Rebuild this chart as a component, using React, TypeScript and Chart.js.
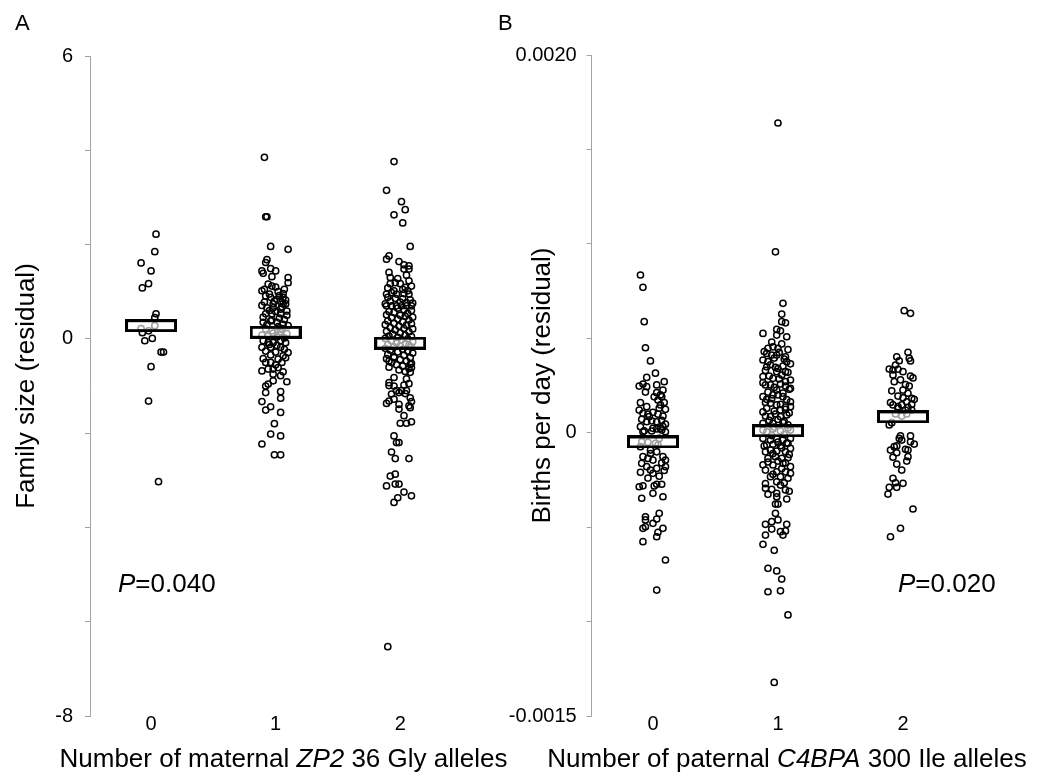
import React, { useEffect, useRef } from "react";
import { Chart, registerables } from "chart.js";

Chart.register(...registerables);

const FAMILY = "'Liberation Sans', Arial, Helvetica, sans-serif";

// ---------- Panel A: family size residual by number of maternal ZP2 36 Gly alleles ----------
const A_CATEGORIES = [0, 1, 2];
const A_MEANS = [0.28, 0.14, -0.09];
// [jitter (category units), residual]
const A_G0 = [
  [0.04, 2.22], [0.03, 1.85], [-0.08, 1.61], [0.0, 1.44], [-0.02, 1.17], [-0.07, 1.08],
  [0.04, 0.53], [0.03, 0.45], [0.03, 0.28], [-0.08, 0.22], [-0.02, 0.17], [-0.07, 0.13],
  [0.01, 0.01], [-0.05, -0.04], [0.08, -0.28], [0.1, -0.28], [0.0, -0.59], [-0.02, -1.32],
  [0.06, -3.03],
];
const A_G1 = [
  [-0.09, 3.85], [-0.08, 2.59], [-0.07, 2.59], [-0.04, 1.96], [0.1, 1.9], [-0.07, 1.68],
  [-0.08, 1.62], [-0.04, 1.49], [0.0, 1.44], [-0.11, 1.44], [-0.1, 1.39], [-0.03, 1.32],
  [0.1, 1.3], [0.1, 1.19], [-0.06, 1.16], [-0.03, 1.12], [0.0, 1.1], [-0.11, 1.02],
  [-0.08, 0.91], [-0.04, 0.88], [0.06, 0.96], [0.06, 0.88], [0.01, 0.84], [0.04, 0.79],
  [0.08, 0.74], [-0.11, 0.71], [-0.07, 0.66], [-0.02, 0.66], [0.04, 0.63], [-0.02, 0.74],
  [0.06, 0.74], [-0.08, 0.53], [-0.03, 0.53], [0.04, 0.53], [0.09, 0.59], [-0.1, 0.35],
  [-0.04, 0.38], [0.01, 0.35], [0.06, 0.31], [0.1, 0.28], [-0.08, 0.21], [-0.03, 0.17],
  [0.04, 0.15], [0.09, 0.11], [-0.06, 0.06], [0.01, 0.04], [-0.11, 0.08], [0.07, 0.02],
  [-0.1, -0.04], [-0.06, -0.08], [-0.02, -0.08], [0.04, -0.04], [0.08, -0.08], [-0.11, -0.18],
  [-0.04, -0.18], [0.04, -0.18], [0.1, -0.29], [0.06, -0.36], [-0.08, -0.5], [-0.04, -0.5],
  [0.02, -0.43], [0.05, -0.5], [-0.11, -0.68], [-0.06, -0.64], [-0.02, -0.64], [0.02, -0.61],
  [0.04, -0.78], [-0.02, -0.89], [-0.06, -0.96], [-0.08, -1.0], [0.09, -0.91], [-0.08, -1.14],
  [0.04, -1.12], [-0.11, -1.33], [0.04, -1.26], [-0.04, -1.44], [-0.08, -1.51], [0.04, -1.56],
  [-0.01, -1.8], [-0.04, -2.02], [0.04, -2.06], [-0.11, -2.23], [-0.01, -2.46], [0.04, -2.46],
  [-0.09, 1.05], [0.02, 1.0], [0.07, 1.05], [-0.05, 0.95], [0.03, 0.92], [-0.01, 0.8],
  [0.08, 0.82], [-0.09, 0.78], [0.05, 0.68], [-0.05, 0.6], [0.0, 0.58], [0.09, 0.5],
  [-0.1, 0.46], [0.03, 0.44], [-0.03, 0.4], [0.07, 0.41], [-0.07, 0.3], [0.02, 0.26],
  [0.05, 0.22], [-0.02, 0.12], [0.03, 0.08], [-0.05, -0.12], [0.01, -0.14], [0.07, -0.22],
  [-0.08, -0.26], [0.0, -0.28], [-0.04, -0.34], [0.08, -0.4], [-0.1, -0.42], [0.0, -0.55],
  [0.06, -0.7], [-0.02, -0.75],
];
const A_G2 = [
  [-0.05, 3.76], [-0.11, 3.15], [0.01, 2.91], [0.04, 2.74], [-0.05, 2.63], [0.02, 2.46],
  [0.08, 1.96], [-0.09, 1.76], [-0.11, 1.69], [-0.01, 1.64], [0.03, 1.57], [0.07, 1.55],
  [0.07, 1.48], [0.03, 1.48], [-0.09, 1.41], [0.07, 1.23], [-0.08, 1.17], [-0.04, 1.19],
  [0.0, 1.17], [0.04, 1.09], [-0.11, 0.95], [-0.07, 0.98], [-0.03, 0.95], [0.03, 0.96],
  [0.07, 0.95], [-0.11, 0.7], [-0.07, 0.7], [-0.03, 0.7], [0.01, 0.7], [0.05, 0.7], [0.09, 0.7],
  [-0.08, 1.3], [0.05, 1.35], [-0.02, 1.28], [0.09, 1.12], [-0.1, 1.08], [0.02, 1.05],
  [0.06, 1.02], [-0.05, 1.02],
  [-0.1, 0.88], [-0.04, 0.86], [0.02, 0.85], [0.08, 0.83], [-0.08, 0.8], [0.0, 0.78],
  [0.05, 0.77], [0.1, 0.76], [-0.12, 0.74], [-0.02, 0.65], [0.03, 0.62], [0.09, 0.6],
  [-0.09, 0.58], [-0.05, 0.56], [0.06, 0.54], [-0.11, 0.51], [0.0, 0.5], [0.04, 0.48],
  [0.1, 0.46], [-0.07, 0.45], [-0.02, 0.42], [0.07, 0.4], [-0.1, 0.38], [0.02, 0.36],
  [-0.05, 0.33], [0.09, 0.32], [-0.12, 0.3], [0.05, 0.29], [-0.01, 0.27], [-0.08, 0.24],
  [0.03, 0.22], [0.1, 0.21], [-0.04, 0.19], [-0.11, 0.16], [0.07, 0.15], [0.0, 0.13],
  [-0.06, 0.1], [0.04, 0.08], [-0.09, 0.06], [0.09, 0.05], [-0.02, 0.03], [-0.12, 0.01],
  [0.06, 0.0], [0.01, -0.02], [-0.07, -0.04], [0.1, -0.06], [-0.03, -0.08], [0.04, -0.1],
  [-0.1, -0.12], [0.07, -0.13], [0.0, -0.15], [-0.05, -0.17], [0.09, -0.18], [-0.12, -0.2],
  [0.02, -0.22], [-0.08, -0.24], [0.06, -0.26], [-0.02, -0.28], [0.1, -0.3], [-0.1, -0.33],
  [0.03, -0.35], [-0.05, -0.38], [0.08, -0.4], [-0.11, -0.42], [0.0, -0.44], [0.05, -0.47],
  [-0.07, -0.5], [0.09, -0.52], [-0.03, -0.55], [0.02, -0.58], [-0.09, -0.6], [0.07, -0.63],
  [-0.01, -0.66], [0.04, -0.69],
  [-0.09, -0.47], [-0.05, -0.4], [0.08, -0.54], [0.09, -0.61], [0.08, -0.71], [-0.09, -0.93],
  [-0.05, -0.82], [0.05, -0.85], [-0.09, -0.99], [-0.05, -1.0], [0.03, -0.98], [0.07, -0.95],
  [-0.03, -1.1], [0.01, -1.1], [0.05, -1.1], [0.08, -1.25], [-0.07, -1.17], [-0.01, -1.14],
  [0.04, -1.16], [-0.09, -1.32], [-0.05, -1.28], [-0.11, -1.37], [-0.01, -1.39], [-0.01, -1.49],
  [0.07, -1.42], [0.09, -1.33], [0.08, -1.46], [0.03, -1.63], [0.0, -1.79], [0.05, -1.79],
  [0.09, -1.76], [-0.05, -2.06], [-0.03, -2.2], [-0.01, -2.2], [-0.07, -2.4], [-0.04, -2.54],
  [0.07, -2.54], [-0.08, -2.91], [-0.04, -2.87], [-0.11, -3.12], [-0.04, -3.08], [-0.01, -3.08],
  [0.03, -3.25], [-0.02, -3.37], [0.09, -3.33], [-0.05, -3.47], [-0.1, -6.53],
];
const A_Y_LABELS = ["6", "0", "-8"];

// ---------- Panel B: births per day residual by number of paternal C4BPA 300 Ile alleles ----------
const B_CATEGORIES = [0, 1, 2];
const B_MEANS = [-0.000049, 0.00001, 0.000084];
const B_G0 = [
  [-0.1, 0.000835], [-0.08, 0.00077], [-0.07, 0.000588], [-0.06, 0.00045], [-0.02, 0.00038],
  [0.02, 0.000315], [-0.05, 0.000293], [0.09, 0.00027], [-0.11, 0.000247], [-0.08, 0.000258],
  [-0.05, 0.000244], [0.03, 0.000253], [0.08, 0.000226], [0.03, 0.000212], [0.06, 0.0002],
  [0.04, 0.000173], [0.07, 0.000191], [-0.1, 0.000159], [-0.05, 0.000138], [0.06, 0.000147],
  [0.1, 0.000124], [-0.08, 0.000103], [-0.04, 0.000098], [0.0, 0.000108], [0.04, 0.000098],
  [0.08, 0.000088], [-0.09, 0.000071], [-0.05, 0.000058], [-0.01, 0.000063], [0.03, 0.000058],
  [0.07, 0.000066], [-0.1, 0.000032], [0.0, 0.000023], [0.06, 0.000023], [0.08, 0.000032],
  [-0.08, 0.000005], [-0.01, 0.000009], [0.03, 0.00002], [0.07, 0.000014], [0.1, 0.000005],
  [-0.09, -0.000048], [-0.04, -0.000051], [0.02, -0.000056], [0.04, -0.000065], [-0.1, -0.000074],
  [-0.02, -0.000092], [0.03, -0.000101], [-0.08, -0.000127], [-0.04, -0.000136], [0.0, -0.000145],
  [0.08, -0.000127], [0.1, -0.000145], [-0.09, -0.000162], [-0.05, -0.00018], [-0.02, -0.000198],
  [0.03, -0.000189], [0.1, -0.00018], [0.0, -0.000215], [-0.11, -0.000286], [-0.08, -0.000281],
  [0.01, -0.000282], [0.03, -0.000273], [0.07, -0.000273], [-0.09, -0.000347], [0.0, -0.000321],
  [0.08, -0.000339], [-0.06, -0.000445], [-0.06, -0.000462], [0.05, -0.000427], [0.03, -0.000457],
  [0.0, -0.00048], [-0.08, -0.000506], [-0.06, -0.000498], [0.08, -0.000506], [0.04, -0.000527],
  [0.03, -0.000551], [-0.08, -0.000577], [0.1, -0.000674], [0.03, -0.000833],
  [-0.06, 0.000215], [0.01, 0.00019], [0.09, 0.00016], [-0.11, 0.00012], [0.05, 0.00013],
  [-0.03, 0.000085], [0.1, 0.000045], [-0.07, 0.00001], [0.05, -0.00003], [-0.02, -0.00011],
  [0.07, -0.00016], [-0.1, -0.00021], [0.05, -0.00023], [-0.04, -0.00024], [0.09, -0.0002],
];
const B_G1 = [
  [0.0, 0.00164], [-0.02, 0.000958],
  [0.04, 0.000685], [0.03, 0.000628], [0.03, 0.000588], [0.06, 0.000582], [-0.12, 0.000526],
  [-0.01, 0.000547], [0.02, 0.00054], [-0.01, 0.000517], [0.07, 0.000508], [-0.08, 0.000447],
  [-0.04, 0.000455], [0.0, 0.000447], [-0.09, 0.00042], [-0.05, 0.000411], [-0.01, 0.000411],
  [0.06, 0.000402], [-0.12, 0.000385], [-0.08, 0.000376], [0.07, 0.000376], [-0.09, 0.000349],
  [-0.02, 0.000346], [0.04, 0.000353], [-0.01, 0.000323], [0.06, 0.000323], [-0.12, 0.000297],
  [-0.04, 0.000288], [0.1, 0.000279], [-0.1, 0.000253], [-0.06, 0.000253], [0.02, 0.000258],
  [0.06, 0.000247], [-0.01, 0.000226], [0.1, 0.000235], [-0.12, 0.000191], [-0.09, 0.000177],
  [-0.04, 0.0002], [0.04, 0.000191], [-0.06, 0.000156], [-0.01, 0.000147], [0.1, 0.000164],
  [0.1, 0.000138], [-0.09, 0.000129], [0.02, 0.00012], [0.06, 0.000124], [-0.1, 0.000088],
  [-0.06, 0.000085], [-0.02, 0.000099], [0.02, 0.000085], [0.07, 0.000094], [-0.12, 0.00005],
  [-0.04, 0.00005], [0.04, 0.000053], [0.08, 0.000041], [-0.12, 0.000014], [-0.04, 0.00002],
  [0.02, 0.000009], [0.1, 0.000014], [-0.12, -0.00003], [-0.06, -0.000039], [-0.01, -0.000033],
  [0.04, -0.000039], [0.1, -0.00003], [-0.09, -0.000065], [-0.04, -0.000061], [0.02, -0.000069],
  [0.08, -0.000056], [-0.1, -0.000101], [-0.06, -0.000092], [-0.01, -0.000097], [0.06, -0.000101],
  [0.1, -0.000083], [-0.08, -0.000136], [-0.02, -0.000127], [0.03, -0.000136], [0.08, -0.000132],
  [-0.04, -0.000171], [0.04, -0.000162], [0.1, -0.00018], [-0.1, -0.000198], [-0.01, -0.000207],
  [0.06, -0.000207], [-0.06, -0.000233], [0.02, -0.000233], [0.08, -0.000241], [0.02, -0.000277],
  [-0.1, -0.000294], [0.06, -0.000303], [-0.08, -0.000326], [-0.01, -0.000321], [-0.01, -0.000339],
  [0.07, -0.000351], [-0.02, -0.000378], [0.0, -0.000378], [-0.02, -0.000427], [-0.1, -0.000485],
  [-0.05, -0.000471], [0.0, -0.000462], [0.07, -0.000485], [-0.1, -0.000542], [-0.05, -0.00051],
  [0.02, -0.000524], [0.06, -0.00052], [0.04, -0.000542], [-0.12, -0.000591], [-0.03, -0.000623],
  [-0.08, -0.000718], [-0.01, -0.000732], [0.03, -0.000775], [-0.08, -0.000842], [0.02, -0.000837],
  [0.08, -0.000965], [-0.03, -0.001322],
  [-0.05, 0.00048], [0.03, 0.00047], [0.08, 0.00044], [-0.11, 0.00043], [0.01, 0.000425],
  [-0.03, 0.000395], [0.05, 0.00039], [0.1, 0.000365], [-0.06, 0.00036], [0.0, 0.00034],
  [-0.1, 0.00033], [0.08, 0.00032], [0.03, 0.000305], [-0.07, 0.0003], [0.01, 0.000285],
  [0.06, 0.00027], [-0.12, 0.000265], [-0.03, 0.00024], [0.09, 0.00023], [-0.08, 0.000215],
  [0.04, 0.00021], [0.0, 0.0002], [-0.05, 0.00018], [0.07, 0.000175], [-0.1, 0.00016],
  [0.02, 0.00015], [0.06, 0.000135], [-0.03, 0.000115], [-0.12, 0.00011], [0.09, 0.000105],
  [0.0, 0.00007], [-0.07, 0.000065], [0.05, 0.00006], [-0.03, 0.00003], [0.08, 0.000025],
  [-0.09, 0.000005], [0.05, -0.00001], [-0.05, -0.000015], [0.0, -0.00005], [0.07, -0.000055],
  [-0.11, -0.00007], [0.03, -0.00008], [-0.04, -0.00011], [0.09, -0.000115], [0.0, -0.00015],
  [-0.08, -0.000155], [0.06, -0.00016], [-0.12, -0.00017], [0.03, -0.00019], [-0.04, -0.00022],
  [0.1, -0.000215], [-0.01, -0.00026], [0.05, -0.000265], [-0.1, -0.00027], [0.09, -0.00031],
  [-0.05, -0.0003],
];
const B_G2 = [
  [0.01, 0.000646], [0.06, 0.000632], [0.04, 0.000426], [-0.05, 0.000402], [0.05, 0.000394],
  [0.06, 0.00038], [-0.03, 0.000381], [-0.06, 0.000358], [-0.11, 0.000337], [-0.08, 0.000332],
  [-0.04, 0.000336], [0.0, 0.000323], [-0.08, 0.000306], [0.06, 0.0003], [-0.07, 0.00027],
  [0.05, 0.000247], [-0.09, 0.000222], [0.0, 0.000226], [0.04, 0.000209], [-0.04, 0.000194],
  [0.0, 0.000185], [0.07, 0.000182], [0.09, 0.000177], [0.03, 0.000164], [-0.08, 0.000147],
  [-0.04, 0.000138], [-0.01, 0.000147], [0.04, 0.000134], [-0.04, 0.000129], [0.02, 0.00012],
  [0.07, 0.00012], [-0.06, 0.000099], [-0.01, 0.000088], [0.03, 0.000099], [-0.11, 0.000041],
  [-0.09, 0.000053], [-0.02, -0.000017], [0.06, -0.000017], [-0.01, -0.000039], [0.06, -0.000048],
  [-0.1, -0.000092], [-0.07, -0.000074], [-0.05, -0.00007], [0.02, -0.000088], [0.04, -0.000092],
  [-0.05, -0.000106], [0.04, -0.000127], [-0.05, -0.000166], [-0.01, -0.000198], [-0.08, -0.000241],
  [-0.06, -0.000265], [0.0, -0.000268], [-0.11, -0.000289], [-0.05, -0.000289], [-0.12, -0.000325],
  [0.08, -0.000404], [-0.02, -0.000506], [-0.1, -0.000551],
  [0.08, 0.00029], [-0.02, 0.00028], [0.02, 0.000255], [-0.1, 0.00016], [0.07, 0.00015],
  [-0.03, -0.00003], [0.09, -0.00006], [-0.08, -0.00013], [0.03, -0.00015],
];
const B_Y_LABELS = ["0.0020", "0", "-0.0015"];

type Seg = [string, boolean];
type TextItem = { x: number; y: number; size: number; align?: "center" | "left"; segs: Seg[] };

const textPlugin = {
  id: "panelText",
  afterDraw(chart: any, _args: any, opts: any) {
    const ctx = chart.ctx as CanvasRenderingContext2D;
    ctx.save();
    ctx.fillStyle = "#000";
    ctx.textBaseline = "alphabetic";
    ctx.textAlign = "left";
    for (const item of (opts.items || []) as TextItem[]) {
      const fontOf = (it: boolean) => `${it ? "italic " : ""}${item.size}px ${FAMILY}`;
      let total = 0;
      for (const [t, it] of item.segs) {
        ctx.font = fontOf(it);
        total += ctx.measureText(t).width;
      }
      let x = item.align === "center" ? item.x - total / 2 : item.x;
      for (const [t, it] of item.segs) {
        ctx.font = fontOf(it);
        ctx.fillText(t, x, item.y);
        x += ctx.measureText(t).width;
      }
    }
    ctx.restore();
  },
};

function makeBoxImage(): HTMLCanvasElement {
  const c = document.createElement("canvas");
  c.width = 52;
  c.height = 13;
  const g = c.getContext("2d")!;
  g.fillStyle = "rgba(255,255,255,0.62)";
  g.fillRect(0, 0, 52, 13);
  g.strokeStyle = "#000";
  g.lineWidth = 3;
  g.strokeRect(1.5, 1.5, 49, 10);
  return c;
}

function pointsOf(cat: number, group: number[][]) {
  return group.map(([dx, y]) => ({ x: cat + dx, y }));
}

function scatterSet(data: { x: number; y: number }[]) {
  return {
    data,
    pointRadius: 3.1,
    pointHoverRadius: 3.1,
    borderWidth: 1.5,
    borderColor: "#000",
    backgroundColor: "rgba(0,0,0,0)",
    showLine: false,
  };
}

function buildConfig(p: {
  categories: number[];
  means: number[];
  groups: number[][][];
  yMin: number;
  yMax: number;
  yStep: number;
  yLabels: string[];
  yTitle: string;
  yTitlePad: number;
  axisWidth: number;
  tickPad: number;
  top: number;
  right: number;
  texts: TextItem[];
}) {
  const box = makeBoxImage();
  const labelFor = (v: number) => {
    const eps = p.yStep * 1e-3;
    if (Math.abs(v - p.yMax) < eps) return p.yLabels[0];
    if (Math.abs(v) < eps) return p.yLabels[1];
    if (Math.abs(v - p.yMin) < eps) return p.yLabels[2];
    return "";
  };
  return {
    type: "scatter" as const,
    data: {
      datasets: [
        {
          data: p.categories.map((c, i) => ({ x: c, y: p.means[i] })),
          pointStyle: box,
          pointRadius: 6,
          pointHoverRadius: 6,
          borderWidth: 0,
          showLine: false,
        },
        ...p.groups.map((g, i) => scatterSet(pointsOf(p.categories[i], g))),
      ],
    },
    options: {
      animation: false as const,
      responsive: false,
      events: [],
      layout: { padding: { left: 0, right: p.right, top: p.top, bottom: 0 } },
      plugins: {
        legend: { display: false },
        tooltip: { enabled: false },
        panelText: { items: p.texts },
      },
      scales: {
        x: {
          type: "linear" as const,
          min: -0.49,
          max: 2.6,
          afterBuildTicks: (s: any) => {
            s.ticks = p.categories.map((v) => ({ value: v }));
          },
          afterFit: (s: any) => {
            s.height = 58;
          },
          grid: { display: false, drawTicks: false },
          border: { display: false },
          ticks: {
            padding: -4,
            color: "#000",
            font: { size: 20, family: FAMILY },
            callback: (v: any) => String(v),
          },
        },
        y: {
          min: p.yMin,
          max: p.yMax,
          afterFit: (s: any) => {
            s.width = p.axisWidth;
          },
          ticks: {
            stepSize: p.yStep,
            autoSkip: false,
            padding: p.tickPad,
            color: "#000",
            font: { size: 20, family: FAMILY },
            callback: (v: any) => labelFor(Number(v)),
          },
          grid: {
            display: true,
            drawOnChartArea: false,
            drawTicks: true,
            tickLength: 5,
            color: "#a3a3a3",
          },
          border: { display: true, color: "#a3a3a3", width: 1 },
          title: {
            display: true,
            text: p.yTitle,
            color: "#000",
            font: { size: 26, family: FAMILY },
            padding: { top: p.yTitlePad, bottom: 0 },
          },
        },
      },
    },
    plugins: [textPlugin],
  };
}

export default function App() {
  const refA = useRef<HTMLCanvasElement>(null);
  const refB = useRef<HTMLCanvasElement>(null);

  useEffect(() => {
    const chartA = new Chart(
      refA.current!,
      buildConfig({
        categories: A_CATEGORIES,
        means: A_MEANS,
        groups: [A_G0, A_G1, A_G2],
        yMin: -8,
        yMax: 6,
        yStep: 2,
        yLabels: A_Y_LABELS,
        yTitle: "Family size (residual)",
        yTitlePad: 11,
        axisWidth: 90,
        tickPad: 12,
        top: 56,
        right: 45,
        texts: [
          { x: 15, y: 30, size: 22, segs: [["A", false]] },
          {
            x: 283.5,
            y: 767,
            size: 26,
            align: "center",
            segs: [["Number of maternal ", false], ["ZP2", true], [" 36 Gly alleles", false]],
          },
          { x: 118, y: 592, size: 26, segs: [["P", true], ["=0.040", false]] },
        ],
      }) as any
    );
    const chartB = new Chart(
      refB.current!,
      buildConfig({
        categories: B_CATEGORIES,
        means: B_MEANS,
        groups: [B_G0, B_G1, B_G2],
        yMin: -0.0015,
        yMax: 0.002,
        yStep: 0.0005,
        yLabels: B_Y_LABELS,
        yTitle: "Births per day (residual)",
        yTitlePad: 32,
        axisWidth: 96.7,
        tickPad: 10,
        top: 55,
        right: 69,
        texts: [
          { x: 3, y: 30, size: 22, segs: [["B", false]] },
          {
            x: 292,
            y: 767,
            size: 26,
            align: "center",
            segs: [["Number of paternal ", false], ["C4BPA", true], [" 300 Ile alleles", false]],
          },
          { x: 403, y: 592, size: 26, segs: [["P", true], ["=0.020", false]] },
        ],
      }) as any
    );
    return () => {
      chartA.destroy();
      chartB.destroy();
    };
  }, []);

  return (
    <div style={{ position: "absolute", left: 0, top: 0, width: 1047, height: 774, background: "#fff" }}>
      <canvas ref={refA} width={520} height={774} style={{ position: "absolute", left: 0, top: 0 }} />
      <canvas ref={refB} width={552} height={774} style={{ position: "absolute", left: 495, top: 0 }} />
    </div>
  );
}
